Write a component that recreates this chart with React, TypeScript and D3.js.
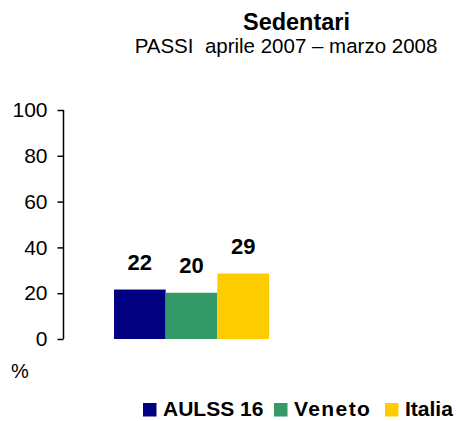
import React, { useEffect, useRef } from 'react';
import * as d3 from 'd3';

const categories = ['AULSS 16', 'Veneto', 'Italia'];
const values = [21.6, 20.2, 28.6];
const valueLabels = ['22', '20', '29'];
const colors = ['#000080', '#339966', '#FFCC00'];
const yTicks = [0, 20, 40, 60, 80, 100];

const W = 456;
const H = 421;
const FONT = '"Liberation Sans", Arial, sans-serif';

export default function App() {
  const ref = useRef<SVGSVGElement>(null);

  useEffect(() => {
    if (!ref.current) return;
    const svg = d3.select(ref.current);
    svg.selectAll('*').remove();

    const y = d3.scaleLinear().domain([0, 100]).range([339, 110]);
    const x = d3.scaleBand().domain(categories).range([114, 269]).padding(0);

    // title
    svg.append('text')
      .attr('x', 296.5).attr('y', 30)
      .attr('text-anchor', 'middle')
      .attr('font-family', FONT).attr('font-weight', 'bold').attr('font-size', 23.5)
      .text('Sedentari');
    svg.append('text')
      .attr('x', 286).attr('y', 53)
      .attr('text-anchor', 'middle')
      .attr('font-family', FONT).attr('font-size', 20.5)
      .attr('xml:space', 'preserve')
      .text('PASSI  aprile 2007 \u2013 marzo 2008');

    // y axis
    const yAxis = svg.append('g')
      .attr('transform', 'translate(63.5,0)')
      .call(d3.axisLeft(y).tickValues(yTicks).tickSize(6).tickPadding(10).tickFormat(d3.format('d')));
    yAxis.selectAll('.domain').attr('stroke', '#000').attr('stroke-width', 1.5).attr('d', `M0,${y(100)}V${y(0)}`);
    yAxis.selectAll('.tick line').attr('stroke', '#000').attr('stroke-width', 1.5);
    yAxis.selectAll('.tick text')
      .attr('font-family', FONT).attr('font-size', 21).attr('fill', '#000');

    svg.append('text')
      .attr('x', 11).attr('y', 378)
      .attr('font-family', FONT).attr('font-size', 20)
      .text('%');

    // bars
    svg.append('g').selectAll('rect')
      .data(categories)
      .join('rect')
      .attr('x', d => x(d)!)
      .attr('width', x.bandwidth())
      .attr('y', (d, i) => y(values[i]))
      .attr('height', (d, i) => y(0) - y(values[i]))
      .attr('fill', (d, i) => colors[i]);

    svg.append('g').selectAll('text')
      .data(categories)
      .join('text')
      .attr('x', d => x(d)! + x.bandwidth() / 2)
      .attr('y', (d, i) => y(values[i]) - 19.5)
      .attr('text-anchor', 'middle')
      .attr('font-family', FONT).attr('font-weight', 'bold').attr('font-size', 22)
      .text((d, i) => valueLabels[i]);

    // legend
    const legendX = [143, 274, 385];
    const spacing = [0, 1.4, 0];
    const lg = svg.append('g');
    categories.forEach((c, i) => {
      lg.append('rect')
        .attr('x', legendX[i]).attr('y', 403)
        .attr('width', 13.5).attr('height', 13.5)
        .attr('fill', colors[i]);
      lg.append('text')
        .attr('x', legendX[i] + 20).attr('y', 416)
        .attr('font-family', FONT).attr('font-weight', 'bold').attr('font-size', 21)
        .attr('letter-spacing', spacing[i])
        .text(c);
    });
  }, []);

  return (
    <svg
      ref={ref}
      width={W}
      height={H}
      style={{ position: 'absolute', left: 0, top: 0, background: '#fff' }}
    />
  );
}
